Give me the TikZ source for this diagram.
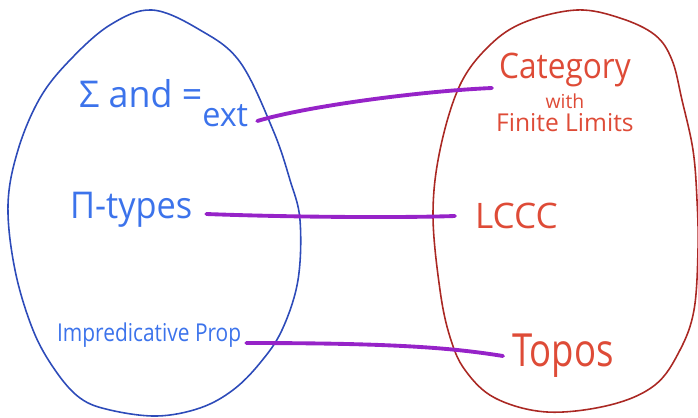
\documentclass[tikz,border=0pt]{standalone}
\usepackage{fontspec}
\setmainfont{Open Sans}
\usetikzlibrary{positioning}

\definecolor{typeblue}{RGB}{60,115,235}
\definecolor{typeedge}{RGB}{45,75,185}
\definecolor{catred}{RGB}{222,75,55}
\definecolor{catedge}{RGB}{170,40,35}
\definecolor{linkpurple}{RGB}{150,35,200}

\begin{document}
\begin{tikzpicture}[x=0.02cm, y=-0.02cm,
  typetext/.style={text=typeblue, inner sep=1pt, anchor=west},
  cattext/.style={text=catred, inner sep=1pt},
  link/.style={draw=linkpurple, line width=2.2pt, line cap=round}]
\useasboundingbox (0,0) rectangle (698,417);
% the two eggs
\draw[typeedge, line width=0.9pt] plot[smooth cycle, tension=0.6] coordinates {
  (152,10) (200,30) (240,62) (273,130) (290,180) (300,220) (298,280)
  (282,330) (260,363) (233,390) (200,408) (157,416) (110,410) (80,398)
  (55,370) (33,330) (15,270) (8,205) (18,150) (40,98) (70,60) (110,25)};
\draw[catedge, line width=0.9pt] plot[smooth cycle, tension=0.6] coordinates {
  (577,10) (620,18) (655,35) (672,60) (682,100) (693,150) (697,200)
  (698,250) (694,310) (680,350) (655,385) (610,405) (547,412) (495,398)
  (465,370) (450,337) (440,290) (433,215) (440,150) (460,85) (490,45) (525,22)};
% type theory side
\node[typetext, font=\fontsize{21}{24}\selectfont] (sigma) at (77,103)
  {\scalebox{0.97}[1]{Σ and =\raisebox{-0.5em}{\fontsize{19}{20}\selectfont ext}}};
\node[typetext, font=\fontsize{21}{24}\selectfont] (pi) at (68,210) {\scalebox{0.93}[1]{Π-types}};
\node[typetext, font=\fontsize{14}{16}\selectfont] (prop) at (55,335) {\scalebox{0.85}[1]{Impredicative Prop}};
% category side
\node[cattext, align=center, anchor=west] (cat) at (494,92)
  {{\fontsize{20}{20}\selectfont\scalebox{0.9}[1]{Category}}\\[3pt]
   {\fontsize{11}{11}\selectfont with}\\[1pt]
   {\fontsize{14}{14}\selectfont Finite Limits}};
\node[cattext, anchor=west, font=\fontsize{20}{22}\selectfont] (lccc) at (473,216) {LCCC};
\node[cattext, anchor=west, font=\fontsize{26}{28}\selectfont] (topos) at (510,356) {\scalebox{0.8}[1]{Topos}};
% links
\draw[link] ([shift={(7,18)}]sigma.east) .. controls +(50,-15) and +(-70,3) .. ([shift={(-2,-4)}]cat.west);
\draw[link] ([shift={(12,4)}]pi.east) .. controls +(80,3) and +(-60,2) .. ([shift={(-18,0)}]lccc.west);
\draw[link] ([shift={(3,8)}]prop.east) .. controls +(150,0) and +(-50,-8) .. ([shift={(-7,0)}]topos.west);
\end{tikzpicture}
\end{document}
